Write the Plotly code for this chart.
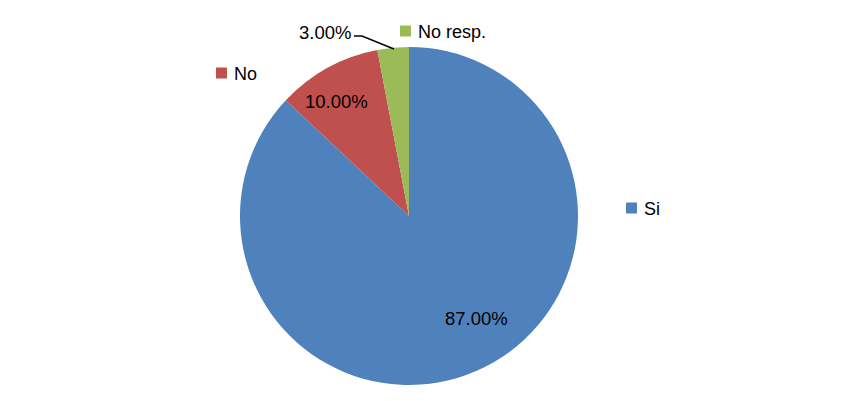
import plotly.graph_objects as go

categories = ["Si", "No", "No resp."]
values = [87.0, 10.0, 3.0]
colors = ["#4F81BD", "#C0504D", "#9BBB59"]

W, H = 843, 401
FONT = "Liberation Sans"

def px(x, y):
    return x / W, 1 - y / H

cx, cy, r = 409, 216, 169
x0, _ = px(cx - r, 0)
x1, _ = px(cx + r, 0)
_, y1 = px(0, cy - r)
_, y0 = px(0, cy + r)

fig = go.Figure(go.Pie(
    labels=categories,
    values=values,
    sort=False,
    direction="clockwise",
    rotation=0,
    marker=dict(colors=colors, line=dict(width=0)),
    textinfo="none",
    hoverinfo="label+percent",
    showlegend=False,
    domain=dict(x=[x0, x1], y=[y0, y1]),
))

total = sum(values)
pct = [f"{v / total * 100:.2f}%" for v in values]

annotations = []
shapes = []

# percentage labels
pct_pos = [(477, 318), (336, 102), (325, 32)]
for t, (x, y) in zip(pct, pct_pos):
    ax, ay = px(x, y)
    annotations.append(dict(x=ax, y=ay, xref="paper", yref="paper", text=t,
                            showarrow=False, xanchor="center", yanchor="middle",
                            font=dict(family=FONT, size=18.5, color="#000000")))

# category labels with key squares
cat_pos = [(626, 208), (216, 73), (400, 31)]
for name, col, (x, y) in zip(categories, colors, cat_pos):
    sx0, sy0 = px(x, y - 5.5)
    sx1, sy1 = px(x + 11, y + 5.5)
    shapes.append(dict(type="rect", xref="paper", yref="paper",
                       x0=sx0, x1=sx1, y0=sy1, y1=sy0,
                       fillcolor=col, line=dict(width=0)))
    tx, ty = px(x + 16, y + 1)
    annotations.append(dict(x=tx, y=ty, xref="paper", yref="paper", text=name,
                            showarrow=False, xanchor="left", yanchor="middle",
                            font=dict(family=FONT, size=18, color="#000000")))

# leader line for the small slice
pts = [(354, 36), (362, 36), (394, 49)]
path = "M " + " L ".join(f"{px(x, y)[0]},{px(x, y)[1]}" for x, y in pts)
shapes.append(dict(type="path", xref="paper", yref="paper", path=path,
                   line=dict(color="#000000", width=1.5)))

fig.update_layout(
    width=W, height=H,
    margin=dict(l=0, r=0, t=0, b=0),
    paper_bgcolor="#FFFFFF",
    plot_bgcolor="#FFFFFF",
    annotations=annotations,
    shapes=shapes,
)

fig.write_html("out.html",
               config={"displayModeBar": False},
               post_script="document.body.style.margin='0';document.body.style.padding='0';")
